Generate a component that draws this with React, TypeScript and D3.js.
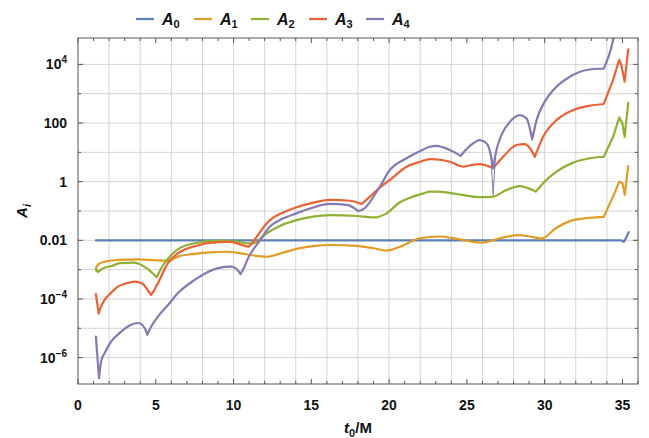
import React from "react";
import * as d3 from "d3";

// ---- data: t0/M and log10(A_i) ----
const tA0 = [1.15, 34.5, 34.9, 35.1, 35.25, 35.4];
const lA0 = [-2, -2, -2.0, -2.05, -1.9, -1.72];
const kA0 = [34.5, 34.9, 35.1, 35.25];

const tA1 = [1.2, 1.15, 1.35, 1.8, 2.6, 3.86, 5.0, 5.78, 6.5, 7.5, 8.5, 9.5, 10.3, 11.05, 12.12, 13.0, 14.05, 15.2, 16.3, 17.9, 19.0, 19.84, 20.7, 21.98, 23.2, 24.34, 25.94, 27.12, 28.3, 29.05, 29.8, 30.76, 31.83, 32.9, 33.8, 34.4, 34.8, 35.0, 35.15, 35.37];
const lA1 = [-3.05, -2.95, -2.8, -2.72, -2.67, -2.65, -2.68, -2.69, -2.54, -2.46, -2.41, -2.39, -2.43, -2.5, -2.56, -2.45, -2.29, -2.19, -2.16, -2.19, -2.27, -2.35, -2.22, -1.93, -1.87, -1.95, -2.08, -1.93, -1.82, -1.87, -1.94, -1.57, -1.31, -1.23, -1.2, -0.5, 0.0, -0.05, -0.45, 0.53];
const kA1 = [1.15, 33.8, 34.4, 34.8, 35.0, 35.15];

const tA2 = [1.15, 1.3, 1.63, 2.14, 2.7, 3.56, 4.41, 5.06, 5.35, 5.9, 6.43, 7.5, 9.0, 10.28, 10.9, 11.27, 12.13, 13.0, 14.05, 15.0, 16.2, 17.9, 18.98, 19.84, 20.7, 21.34, 22.2, 22.62, 23.05, 24.34, 25.84, 26.69, 27.55, 28.4, 28.94, 29.43, 29.9, 30.76, 31.83, 32.9, 33.8, 34.4, 34.79, 35.0, 35.14, 35.37];
const lA2 = [-3.0, -3.08, -2.95, -2.88, -2.78, -2.76, -2.95, -3.26, -2.95, -2.56, -2.3, -2.1, -2.01, -2.05, -2.1, -2.1, -1.76, -1.5, -1.31, -1.2, -1.14, -1.17, -1.22, -1.08, -0.7, -0.55, -0.4, -0.34, -0.34, -0.42, -0.53, -0.51, -0.28, -0.15, -0.22, -0.34, -0.05, 0.34, 0.65, 0.8, 0.85, 1.53, 2.19, 1.99, 1.53, 2.69];
const kA2 = [1.3, 5.06, 29.43, 33.8, 34.4, 34.79, 35.0, 35.14];

const tA3 = [1.15, 1.33, 1.5, 1.71, 2.1, 2.57, 3.1, 3.64, 4.18, 4.5, 4.7, 4.9, 5.14, 5.78, 6.43, 7.5, 9.0, 9.77, 10.3, 10.95, 11.2, 11.48, 12.34, 13.2, 14.05, 15.0, 16.2, 17.48, 18.23, 18.77, 19.4, 20.05, 21.12, 22.0, 22.62, 23.05, 23.9, 24.76, 25.3, 25.84, 26.37, 26.69, 27.33, 28.19, 28.73, 29.05, 29.37, 29.9, 30.76, 31.83, 32.9, 33.8, 34.4, 34.79, 34.93, 35.14, 35.37];
const lA3 = [-3.83, -4.5, -4.23, -4.03, -3.8, -3.58, -3.47, -3.41, -3.49, -3.72, -3.86, -3.7, -3.46, -2.78, -2.44, -2.2, -2.06, -2.05, -2.12, -2.22, -2.1, -1.88, -1.31, -1.05, -0.87, -0.73, -0.62, -0.65, -0.76, -0.51, -0.2, 0.06, 0.51, 0.68, 0.77, 0.76, 0.68, 0.51, 0.57, 0.6, 0.53, 0.46, 0.85, 1.25, 1.28, 1.14, 0.85, 1.53, 2.1, 2.44, 2.59, 2.65, 3.47, 4.15, 3.98, 3.41, 4.51];
const kA3 = [1.33, 4.7, 10.95, 18.23, 26.69, 29.37, 33.8, 34.4, 34.79, 34.93, 35.14];

const tA4 = [1.15, 1.35, 1.5, 1.71, 2.14, 2.7, 3.21, 3.86, 4.28, 4.45, 4.7, 5.14, 5.8, 6.43, 7.5, 9.0, 9.85, 10.2, 10.45, 10.7, 10.9, 11.7, 12.34, 13.2, 14.05, 15.0, 16.2, 17.27, 17.7, 18.0, 18.34, 19.4, 20.05, 21.12, 22.0, 22.62, 23.05, 23.9, 24.6, 25.19, 25.84, 26.26, 26.54, 26.69, 26.9, 27.22, 27.76, 28.4, 28.83, 29.2, 29.48, 30.01, 30.76, 31.62, 32.69, 33.8, 34.4, 34.6];
const lA4 = [-5.28, -6.7, -6.1, -5.85, -5.45, -5.15, -4.94, -4.82, -4.99, -5.22, -4.95, -4.6, -4.2, -3.8, -3.35, -2.95, -2.9, -2.98, -3.15, -2.9, -2.65, -2.0, -1.53, -1.25, -1.08, -0.9, -0.76, -0.79, -0.88, -1.0, -0.94, -0.17, 0.4, 0.8, 1.05, 1.19, 1.22, 1.08, 0.88, 1.22, 1.42, 1.31, 0.91, 0.45, 1.08, 1.59, 2.04, 2.27, 2.16, 1.44, 2.1, 2.73, 3.24, 3.58, 3.81, 3.86, 4.83, 5.4];
const kA4 = [1.35, 4.45, 10.45, 18.0, 24.6, 26.69, 29.2, 33.8];

// thin outlier strand of the A4 bundle at the deep dip
const tA4spike = [26.54, 26.69, 26.84];
const lA4spike = [0.91, -0.45, 0.95];

const seriesNames = ["0", "1", "2", "3", "4"];
const seriesT = [tA0, tA1, tA2, tA3, tA4];
const seriesL = [lA0, lA1, lA2, lA3, lA4];
const seriesK = [kA0, kA1, kA2, kA3, kA4];
const colors = ["#5E81B5", "#E19C24", "#8FB032", "#EB6235", "#8778B3"];

const xMajor = [0, 5, 10, 15, 20, 25, 30, 35];
const yLabelExps = [4, 2, 0, -2, -4, -6];

const W = 649, H = 438;
const L = 78, R = 638, T = 38, B = 384;
const FONT = "'Liberation Sans', Arial, Helvetica, sans-serif";

function yLabel(e: number, y: number) {
  const common = { fontFamily: FONT, fontWeight: "bold" as const, fill: "#111" };
  if (e === 2) return <text key={e} x={67} y={y + 5} textAnchor="end" fontSize={14} {...common}>100</text>;
  if (e === 0) return <text key={e} x={67} y={y + 5} textAnchor="end" fontSize={14} {...common}>1</text>;
  if (e === -2) return <text key={e} x={67} y={y + 5} textAnchor="end" fontSize={14} {...common}>0.01</text>;
  const sup = e < 0 ? "\u2212" + Math.abs(e) : String(e);
  return (
    <text key={e} x={67} y={y + 5} textAnchor="end" fontSize={14} {...common}>
      10<tspan fontSize={10} dy={-6}>{sup}</tspan>
    </text>
  );
}

export default function App() {
  const x = d3.scaleLinear().domain([0, 36]).range([L, R]);
  const y = d3.scaleLog().domain([Math.pow(10, -6.9), Math.pow(10, 4.9)]).range([B, T]);
  const smooth = d3
    .line<[number, number]>()
    .x((d) => x(d[0]))
    .y((d) => y(Math.pow(10, d[1])))
    .curve(d3.curveMonotoneX);
  const straight = d3
    .line<[number, number]>()
    .x((d) => x(d[0]))
    .y((d) => y(Math.pow(10, d[1])));

  // split each series at its cusps; each piece is a smooth monotone spline
  function seriesPath(ts: number[], ls: number[], ks: number[]) {
    const pts: [number, number][] = ts.map((t, k) => [t, ls[k]]);
    const cuts = ks.map((c) => ts.indexOf(c)).filter((i) => i > 0 && i < ts.length - 1);
    const bounds = [0, ...cuts, ts.length - 1];
    let d = "";
    for (let s = 0; s < bounds.length - 1; s++) {
      const seg = pts.slice(bounds[s], bounds[s + 1] + 1);
      d += seg.length > 2 ? smooth(seg) || "" : straight(seg) || "";
    }
    return d;
  }

  const xGrid = d3.range(2, 36, 2);
  const yDecades = d3.range(-6, 5, 1);
  const xMinor = d3.range(0, 37, 1).filter((v) => v % 5 !== 0);

  const legendX = [136, 194, 251, 309, 366];
  const spikePts: [number, number][] = tA4spike.map((t, k) => [t, lA4spike[k]]);

  return (
    <svg width={W} height={H} style={{ position: "absolute", left: 0, top: 0, background: "#fff" }}>
      <defs>
        <clipPath id="plotclip">
          <rect x={L} y={T} width={R - L} height={B - T} />
        </clipPath>
      </defs>
      <rect x={0} y={0} width={W} height={H} fill="#fff" />
      {/* grid */}
      {xGrid.map((v) => (
        <line key={"gx" + v} x1={x(v)} x2={x(v)} y1={T} y2={B} stroke="#d4d4d4" strokeWidth={1} />
      ))}
      {yDecades.map((e) => (
        <line key={"gy" + e} x1={L} x2={R} y1={y(Math.pow(10, e))} y2={y(Math.pow(10, e))} stroke="#d4d4d4" strokeWidth={1} />
      ))}
      {/* series */}
      <g clipPath="url(#plotclip)">
        {seriesT.map((ts, i) => (
          <path
            key={i}
            d={seriesPath(ts, seriesL[i], seriesK[i])}
            fill="none"
            stroke={colors[i]}
            strokeWidth={2.2}
            strokeLinejoin="round"
            strokeLinecap="round"
          />
        ))}
        <path d={straight(spikePts) || ""} fill="none" stroke={colors[4]} strokeWidth={1} />
      </g>
      {/* frame */}
      <rect x={L} y={T} width={R - L} height={B - T} fill="none" stroke="#555" strokeWidth={1} />
      {/* x ticks */}
      {xMajor.map((v) => (
        <g key={"xt" + v}>
          <line x1={x(v)} x2={x(v)} y1={B} y2={B - 5} stroke="#555" />
          <line x1={x(v)} x2={x(v)} y1={T} y2={T + 5} stroke="#555" />
          <text x={x(v)} y={410} textAnchor="middle" fontFamily={FONT} fontWeight="bold" fontSize={14} fill="#111">{v}</text>
        </g>
      ))}
      {xMinor.map((v) => (
        <g key={"xm" + v}>
          <line x1={x(v)} x2={x(v)} y1={B} y2={B - 3} stroke="#555" />
          <line x1={x(v)} x2={x(v)} y1={T} y2={T + 3} stroke="#555" />
        </g>
      ))}
      {/* y ticks */}
      {yDecades.map((e) => {
        const yy = y(Math.pow(10, e));
        const len = e % 2 === 0 ? 5 : 3;
        return (
          <g key={"yt" + e}>
            <line x1={L} x2={L + len} y1={yy} y2={yy} stroke="#555" />
            <line x1={R} x2={R - len} y1={yy} y2={yy} stroke="#555" />
          </g>
        );
      })}
      {yLabelExps.map((e) => yLabel(e, y(Math.pow(10, e))))}
      {/* axis titles */}
      <text x={358} y={433} textAnchor="middle" fontFamily={FONT} fontWeight="bold" fontSize={15} fill="#111">
        <tspan fontStyle="italic">t</tspan>
        <tspan fontSize={11} dy={4}>0</tspan>
        <tspan dy={-4}>/M</tspan>
      </text>
      <text transform="translate(27,211) rotate(-90)" textAnchor="middle" fontFamily={FONT} fontWeight="bold" fontSize={15} fill="#111">
        <tspan fontStyle="italic">A</tspan>
        <tspan fontStyle="italic" fontSize={11} dy={4}>i</tspan>
      </text>
      {/* legend */}
      {seriesNames.map((n, i) => (
        <g key={"lg" + i}>
          <line x1={legendX[i]} x2={legendX[i] + 18} y1={19} y2={19} stroke={colors[i]} strokeWidth={2.2} />
          <text x={legendX[i] + 26} y={25} fontFamily={FONT} fontWeight="bold" fontSize={16} fill="#111">
            <tspan fontStyle="italic">A</tspan>
            <tspan fontSize={11} dy={3}>{n}</tspan>
          </text>
        </g>
      ))}
    </svg>
  );
}
